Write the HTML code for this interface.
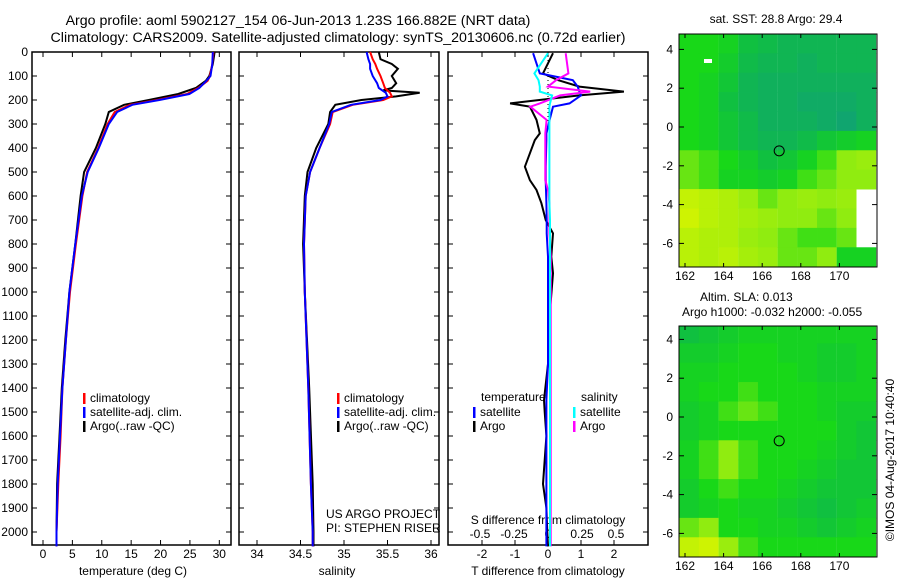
<!DOCTYPE html>
<html><head><meta charset="utf-8"><style>
body{margin:0;background:#fff}
svg{display:block;font-family:"Liberation Sans",sans-serif}
</style></head><body>
<svg id="c" width="900" height="580" xmlns="http://www.w3.org/2000/svg"></svg>
<script>
// ---- profile data (depth in dbar) ----
const tDepth=[0,50,100,120,150,175,200,220,250,300,400,500,600,800,1000,1200,1400,1600,1800,2000,2060];
const tClim=[29,28.8,28.4,28,26.4,24.5,19.4,14.8,12.2,11,9.4,7.5,6.7,5.6,4.6,3.9,3.3,3.0,2.6,2.3,2.3];
const tSat=[28.9,28.8,28.5,27.8,26.6,24.9,19.8,15.2,12.6,11.2,9.5,7.6,6.6,5.5,4.5,3.9,3.3,2.9,2.5,2.3,2.3];
const tArgo=[29.2,28.9,28.3,27.7,26.0,23.0,18.0,13.8,11.2,10.6,9.0,7.0,6.4,5.5,4.5,3.8,3.2,2.8,2.4,2.3,2.3];
const sDepth=[0,30,50,70,100,130,150,160,170,185,200,220,250,300,400,500,600,800,1000,1400,1800,2000,2060];
const sClim=[35.3,35.33,35.36,35.38,35.42,35.45,35.47,35.5,35.53,35.55,35.45,35.1,34.87,34.84,34.72,34.61,34.56,34.54,34.55,34.59,34.62,34.64,34.64];
const sSat=[35.26,35.28,35.3,35.3,35.33,35.38,35.4,35.44,35.48,35.5,35.42,35.08,34.86,34.83,34.72,34.61,34.56,34.54,34.55,34.59,34.62,34.64,34.64];
const sArgo=[35.4,35.42,35.55,35.62,35.55,35.6,35.55,35.45,35.87,35.6,35.2,34.9,34.84,34.82,34.68,34.58,34.55,34.53,34.55,34.6,34.64,34.65,34.65];
// ---- difference data ----
const dDepth=[5,89,117,144,165,181,214,228,283,339,367,478,534,575,630,700,756,853,922,1100,1300,1450,1500,1600,1800,1900,2000,2060];
const dtArgo=[0.15,-0.15,0.3,0.95,2.3,0.95,-1.15,-0.55,-0.35,-0.25,-0.4,-0.7,-0.55,-0.35,-0.2,-0.07,0.15,0.1,0.15,0.05,0.0,-0.12,-0.1,-0.05,-0.15,-0.05,-0.02,0];
const dtSat=[-0.45,-0.25,0.75,0.9,0.95,1.0,0.65,0.15,0.05,-0.05,-0.05,-0.07,-0.07,-0.06,-0.05,-0.04,-0.04,0,0,0,0,-0.05,-0.05,-0.05,-0.05,-0.05,-0.05,-0.05];
const dsSat=[0,-0.1,-0.07,-0.06,-0.06,0.03,0.015,0.01,0.01,0.01,0.01,0.01,0.01,0.01,0.01,0.015,0.015,0.015,0.015,0.015,0.015,0.015,0.015,0.015,0.015,0.015,0.015,0.015];
const dsArgo=[0.13,0.15,0.06,0.0,0.31,0.09,-0.06,-0.13,-0.01,-0.02,-0.02,-0.02,-0.02,0.0,0.01,0.01,0.01,0.02,0.02,0.02,0.02,0.02,0.02,0.02,0.02,0.02,0.02,0.02];
// ---- maps (1-degree cells, rows from lat 4.8 down, cols from lon 161.8) ----
const sstGrid=[
[0.5,0.5,0.55,0.7,0.75,0.8,0.8,0.8,0.8,0.8],
[0.5,0.5,0.6,0.75,0.8,0.8,0.85,0.8,0.8,0.8],
[0.5,0.55,0.65,0.8,0.85,0.85,0.85,0.85,0.85,0.85],
[0.5,0.55,0.7,0.8,0.85,0.85,0.9,0.9,0.9,0.85],
[0.5,0.55,0.65,0.75,0.85,0.85,0.85,0.9,0.95,0.85],
[0.5,0.55,0.65,0.75,0.8,0.8,0.75,0.65,0.6,0.55],
[0.4,0.45,0.5,0.6,0.7,0.65,0.55,0.45,0.35,0.3],
[0.4,0.45,0.55,0.55,0.6,0.55,0.45,0.4,0.35,0.35],
[0.1,0.15,0.2,0.3,0.4,0.35,0.3,0.35,0.3,null],
[0.05,0.15,0.2,0.25,0.3,0.35,0.35,0.4,0.35,null],
[0.15,0.2,0.2,0.3,0.35,0.4,0.45,0.45,0.4,null],
[0.15,0.2,0.15,0.25,0.3,0.4,0.4,0.35,0.55,0.55]];
const slaGrid=[
[0.7,0.65,0.6,0.55,0.55,0.55,0.55,0.55,0.55,0.55],
[0.6,0.6,0.55,0.5,0.5,0.55,0.55,0.6,0.6,0.55],
[0.55,0.55,0.5,0.5,0.5,0.5,0.55,0.6,0.6,0.55],
[0.55,0.5,0.5,0.45,0.5,0.5,0.5,0.55,0.55,0.55],
[0.6,0.55,0.45,0.4,0.45,0.5,0.5,0.55,0.6,0.6],
[0.6,0.55,0.5,0.5,0.5,0.5,0.5,0.5,0.6,0.65],
[0.55,0.45,0.35,0.45,0.5,0.5,0.5,0.55,0.6,0.65],
[0.55,0.45,0.35,0.45,0.5,0.5,0.55,0.6,0.65,0.65],
[0.6,0.5,0.45,0.5,0.5,0.55,0.6,0.65,0.65,0.65],
[0.6,0.55,0.5,0.55,0.55,0.6,0.65,0.7,0.65,0.6],
[0.4,0.35,0.5,0.5,0.55,0.55,0.6,0.65,0.6,0.55],
[0.1,0.05,0.3,0.45,0.5,0.5,0.5,0.5,0.5,0.5]];
const argoLon=166.88, argoLat=-1.23;
const depthTicks=[0,100,200,300,400,500,600,700,800,900,1000,1100,1200,1300,1400,1500,1600,1700,1800,1900,2000];
const tTicks=[0,5,10,15,20,25,30];
const sTicks=[34,34.5,35,35.5,36];
const dTTicks=[-2,-1,0,1,2];
const dSTicks=["-0.5","-0.25","0","0.25","0.5"];
const latTicks=[4,2,0,-2,-4,-6];
const lonTicks=[162,164,166,168,170];

const svg=document.getElementById('c');
const NS="http://www.w3.org/2000/svg";
function el(tag,a,txt){const e=document.createElementNS(NS,tag);for(const k in a)e.setAttribute(k,a[k]);if(txt!==undefined)e.textContent=txt;svg.appendChild(e);return e;}
const Y=d=>52+d*0.24;
const xT=v=>43+v*5.877, xS=v=>257+(v-34)*87, xDT=v=>548+v*33, xDS=v=>548+v*136;
const TOP=52,BOT=545;
function panel(x0,x1,name){
  const r=el('rect',{x:x0,y:TOP,width:x1-x0,height:BOT-TOP,fill:'#fff',stroke:'#000','stroke-width':1.5});
  
  depthTicks.forEach(d=>{el('line',{x1:x0,x2:x0+5,y1:Y(d),y2:Y(d),stroke:'#000'});el('line',{x1:x1-5,x2:x1,y1:Y(d),y2:Y(d),stroke:'#000'});});
}
function xticks(vals,fx,labels,ly){vals.forEach((v,i)=>{const x=fx(v);el('line',{x1:x,x2:x,y1:TOP,y2:TOP+5,stroke:'#000'});el('line',{x1:x,x2:x,y1:BOT-5,y2:BOT,stroke:'#000'});const t=el('text',{x:x,y:ly,'font-size':12,'text-anchor':'middle'},labels[i]);});}
function line(ds,vs,fx,color,name,w){const p=ds.map((d,i)=>fx(vs[i]).toFixed(1)+','+Y(d).toFixed(1)).join(' ');const e=el('polyline',{points:p,fill:'none',stroke:color,'stroke-width':w||2});}
function txt(x,y,s,name,anchor,size){const t=el('text',{x:x,y:y,'font-size':size||12,'text-anchor':anchor||'start'},s);return t;}
function leg(x,y,c,s,name){el('rect',{x:x,y:y-9,width:2.5,height:11,fill:c});txt(x+7,y,s,name);}

txt(298,25,'Argo profile: aoml 5902127_154 06-Jun-2013 1.23S 166.882E (NRT data)','title-line-1','middle',14.2);
txt(338,42,'Climatology: CARS2009. Satellite-adjusted climatology: synTS_20130606.nc (0.72d earlier)','title-line-2','middle',14.2);

// panel 1
panel(32,231,'temperature-panel');
depthTicks.forEach(d=>{txt(28,Y(d)+4,String(d),'y-tick-label','end');});
xticks(tTicks,xT,tTicks.map(String),558);
txt(133,575,'temperature (deg C)','x-axis-title-temperature','middle');
line(tDepth,tArgo,xT,'#000','temp-argo-line');
line(tDepth,tClim,xT,'#f00','temp-climatology-line');
line(tDepth,tSat,xT,'#00f','temp-satellite-line');
leg(83,402,'#f00','climatology','legend-climatology');
leg(83,416,'#00f','satellite-adj. clim.','legend-satellite');
leg(83,430,'#000','Argo(..raw -QC)','legend-argo');

// panel 2
panel(239,439,'salinity-panel');
xticks(sTicks,xS,sTicks.map(String),558);
txt(337,575,'salinity','x-axis-title-salinity','middle');
line(sDepth,sArgo,xS,'#000','sal-argo-line');
line(sDepth,sClim,xS,'#f00','sal-climatology-line');
line(sDepth,sSat,xS,'#00f','sal-satellite-line');
leg(337,402,'#f00','climatology','legend-climatology-2');
leg(337,416,'#00f','satellite-adj. clim.','legend-satellite-2');
leg(337,430,'#000','Argo(..raw -QC)','legend-argo-2');
txt(326,518,'US ARGO PROJECT','project-label');
txt(326,532,'PI: STEPHEN RISER','pi-label');

// panel 3
panel(448,648,'difference-panel');
xticks(dTTicks,xDT,dTTicks.map(String),558);
el('line',{x1:548,x2:548,y1:52,y2:Y(300),stroke:'#000','stroke-dasharray':'1,3'});
txt(548,575,'T difference from climatology','x-axis-title-tdiff','middle');
txt(548,524,'S difference from climatology','s-axis-title','middle');
dSTicks.forEach(s=>txt(xDS(parseFloat(s)),538,s,'s-tick-label','middle'));
line(dDepth,dtArgo,xDT,'#000','tdiff-argo-line');
line(dDepth,dtSat,xDT,'#00f','tdiff-satellite-line');
line(dDepth,dsArgo,xDS,'#f0f','sdiff-argo-line');
line(dDepth,dsSat,xDS,'#0ff','sdiff-satellite-line');
txt(481,401,'temperature','legend-temperature-heading');
leg(473,416,'#00f','satellite','legend-t-satellite');
leg(473,430,'#000','Argo','legend-t-argo');
txt(581,401,'salinity','legend-salinity-heading');
leg(573,416,'#0ff','satellite','legend-s-satellite');
leg(573,430,'#f0f','Argo','legend-s-argo');

// maps
const stops=[[0,[216,244,0]],[0.35,[144,236,16]],[0.5,[24,216,24]],[0.7,[16,192,64]],[1,[16,160,120]]];
function col(v){for(let i=1;i<stops.length;i++){if(v<=stops[i][0]){const a=stops[i-1],b=stops[i],t=(v-a[0])/(b[0]-a[0]);return 'rgb('+a[1].map((c,k)=>Math.round(c+(b[1][k]-c)*t)).join(',')+')';}}return 'rgb(16,160,120)';}
const LX=lon=>685+(lon-162)*19.3;
function map(grid,top,bot,lat0y,name){
  const LY=lat=>lat0y-lat*19.4;
  const clip='clip-'+name;
  const cp=document.createElementNS(NS,'clipPath');cp.setAttribute('id',clip);
  const cr=document.createElementNS(NS,'rect');cr.setAttribute('x',679);cr.setAttribute('y',top);cr.setAttribute('width',198);cr.setAttribute('height',bot-top);cp.appendChild(cr);svg.appendChild(cp);
  const g=el('g',{'clip-path':'url(#'+clip+')'});
  grid.forEach((row,r)=>row.forEach((v,c)=>{if(v===null)return;const lon=161.7+c*1.02,lat=4.8-r;
    const rc=document.createElementNS(NS,'rect');rc.setAttribute('x',LX(lon));rc.setAttribute('y',LY(lat));rc.setAttribute('width',19.8);rc.setAttribute('height',19.8);rc.setAttribute('fill',col(v));
    g.appendChild(rc);}));
  el('rect',{x:679,y:top,width:198,height:bot-top,fill:'none',stroke:'#000'});
  latTicks.forEach(l=>{const y=LY(l);if(y<top||y>bot)return;el('line',{x1:679,x2:684,y1:y,y2:y,stroke:'#000'});el('line',{x1:872,x2:877,y1:y,y2:y,stroke:'#000'});txt(673,y+4,String(l),'lat-tick-label','end');});
  lonTicks.forEach(l=>{const x=LX(l);el('line',{x1:x,x2:x,y1:top,y2:top+4,stroke:'#000'});el('line',{x1:x,x2:x,y1:bot-4,y2:bot,stroke:'#000'});txt(x,bot+13,String(l),'lon-tick-label','middle');});
  const c=el('circle',{cx:LX(argoLon),cy:LY(argoLat),r:5,fill:'none',stroke:'#000'});
}
map(sstGrid,34,267,127,'sst-map');
el('rect',{x:704,y:59,width:8,height:4,fill:'#fff'});
txt(776,23,'sat. SST: 28.8 Argo: 29.4','sst-map-title','middle');
map(slaGrid,326,557,417,'sla-map');
txt(700,301,'Altim. SLA: 0.013','sla-map-title');
txt(682,316,'Argo h1000: -0.032 h2000: -0.055','argo-height-label');
const cr=txt(0,0,'©IMOS 04-Aug-2017 10:40:40','credit-label','middle');
cr.setAttribute('transform','translate(894,460) rotate(-90)');
</script>
</body></html>
